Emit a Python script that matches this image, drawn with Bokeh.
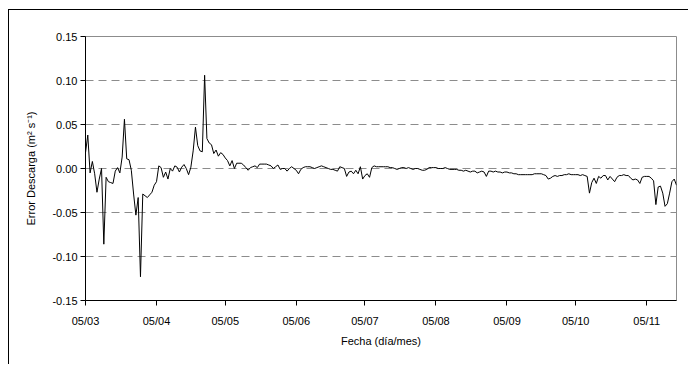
import pandas as pd
from bokeh.plotting import figure
from bokeh.models import Range1d, FixedTicker, DatetimeTickFormatter, NumeralTickFormatter
from bokeh.embed import file_html
from bokeh.resources import INLINE

start_date = "2005-03-05"
error_values = [
    0.018, 0.038, -0.005, 0.008, -0.006, -0.027, -0.012, 0.000, -0.086, -0.010,
    -0.015, -0.016, -0.017, -0.003, 0.001, -0.005, 0.013, 0.056, 0.011, 0.010,
    -0.002, -0.029, -0.053, -0.033, -0.123, -0.029, -0.031, -0.033, -0.030, -0.027,
    -0.019, -0.015, 0.003, 0.001, -0.010, -0.004, -0.012, 0.000, -0.003, 0.003,
    0.0015, -0.004, 0.0015, 0.0045, 0.000, -0.007, 0.0015, 0.020, 0.047, 0.026,
    0.020, 0.019, 0.106, 0.034, 0.029, 0.027, 0.017, 0.021, 0.014, 0.018,
    0.016, 0.012, 0.009, 0.003, 0.009, 0.000, 0.006, 0.006, 0.006, 0.004,
    0.001, -0.002, 0.001, 0.002, 0.003, 0.001, 0.005, 0.005, 0.005, 0.005,
    0.004, 0.003, 0.000, 0.002, 0.004, -0.001, 0.000, 0.000, -0.003, 0.000,
    0.002, 0.000, -0.002, -0.006, -0.001, 0.001, 0.002, 0.002, 0.002, 0.001,
    0.000, 0.001, 0.002, 0.003, 0.002, 0.001, 0.000, -0.001, -0.001, -0.002,
    -0.003, 0.002, 0.001, 0.000, -0.009, -0.004, -0.003, -0.006, -0.002, -0.006,
    0.002, -0.012, -0.008, -0.006, -0.010, 0.001, 0.003, 0.002, 0.002, 0.002,
    0.002, 0.002, 0.002, 0.001, 0.001, 0.000, -0.001, 0.000, 0.001, 0.001,
    0.000, 0.001, 0.000, -0.001, 0.000, 0.000, -0.001, -0.002, -0.002, -0.001,
    0.001, 0.001, 0.001, 0.001, 0.000, 0.000, 0.000, 0.001, 0.000, -0.001,
    -0.001, -0.001, -0.001, -0.002, -0.002, -0.003, -0.002, -0.003, -0.004, -0.003,
    -0.003, -0.005, -0.004, -0.003, -0.004, -0.009, -0.003, -0.003, -0.004, -0.003,
    -0.004, -0.004, -0.005, -0.004, -0.004, -0.005, -0.005, -0.006, -0.006, -0.007,
    -0.007, -0.007, -0.007, -0.007, -0.007, -0.007, -0.006, -0.006, -0.006, -0.006,
    -0.007, -0.008, -0.012, -0.011, -0.009, -0.008, -0.009, -0.008, -0.008, -0.007,
    -0.007, -0.006, -0.007, -0.007, -0.007, -0.007, -0.008, -0.007, -0.008, -0.009,
    -0.028, -0.016, -0.011, -0.017, -0.009, -0.011, -0.008, -0.008, -0.013, -0.009,
    -0.012, -0.015, -0.010, -0.008, -0.008, -0.007, -0.008, -0.008, -0.011, -0.013,
    -0.012, -0.013, -0.017, -0.010, -0.009, -0.009, -0.009, -0.011, -0.014, -0.041,
    -0.021, -0.020, -0.028, -0.043, -0.040, -0.028, -0.015, -0.012, -0.019,
]
tick_dates = ["2005-03-05", "2005-04-05", "2005-05-05", "2005-06-05", "2005-07-05",
              "2005-08-05", "2005-09-05", "2005-10-05", "2005-11-05"]
y_ticks = [-0.15, -0.10, -0.05, 0.00, 0.05, 0.10, 0.15]
grid_ticks = [-0.10, -0.05, 0.00, 0.05, 0.10]

dates = pd.date_range(start_date, periods=len(error_values), freq="D")
x_start = dates[0]
x_end = dates[-1]

p = figure(width=680, height=355, x_axis_type="datetime",
           x_range=Range1d(x_start, x_end), y_range=Range1d(-0.15, 0.15),
           output_backend="svg", toolbar_location=None,
           min_border_left=76, min_border_top=26, min_border_right=13, min_border_bottom=65,
           styles={"margin-left": "8px", "margin-top": "9px",
                   "border-left": "1px solid #000", "border-top": "1px solid #000"})

p.line(dates, error_values, line_color="black", line_width=1)

tick_ms = [pd.Timestamp(d).value / 1e6 for d in tick_dates]
p.xaxis.ticker = FixedTicker(ticks=tick_ms)
fmt = "%d/%m"
p.xaxis.formatter = DatetimeTickFormatter(milliseconds=fmt, seconds=fmt, minsec=fmt, minutes=fmt,
                                          hourmin=fmt, hours=fmt, days=fmt, months=fmt, years=fmt)
p.yaxis.ticker = FixedTicker(ticks=y_ticks)
p.yaxis.formatter = NumeralTickFormatter(format="0.00")

p.xgrid.visible = False
p.ygrid.ticker = FixedTicker(ticks=grid_ticks)
p.ygrid.grid_line_color = "#8c8c8c"
p.ygrid.grid_line_dash = "8 5"
p.ygrid.grid_line_width = 1

p.outline_line_color = "#8c8c8c"
p.outline_line_width = 1

for ax in (p.xaxis, p.yaxis):
    ax.axis_line_color = "black"
    ax.axis_line_width = 1
    ax.major_tick_line_color = "black"
    ax.major_tick_out = 5
    ax.major_tick_in = 0
    ax.minor_tick_out = 0
    ax.minor_tick_in = 0
    ax.major_label_text_font = "Liberation Sans"
    ax.major_label_text_font_size = "11px"
    ax.major_label_text_color = "black"
    ax.axis_label_text_font = "Liberation Sans"
    ax.axis_label_text_font_size = "11px"
    ax.axis_label_text_font_style = "normal"
    ax.axis_label_text_color = "black"

p.xaxis.axis_label = "Fecha (día/mes)"
p.yaxis.axis_label = "Error Descarga (m² s⁻¹)"
p.xaxis.major_label_standoff = 9
p.yaxis.major_label_standoff = 3
p.xaxis.axis_label_standoff = 5
p.yaxis.axis_label_standoff = 12

p.background_fill_color = "white"
p.border_fill_color = "white"

open("out.html", "w").write(file_html(p, INLINE))
